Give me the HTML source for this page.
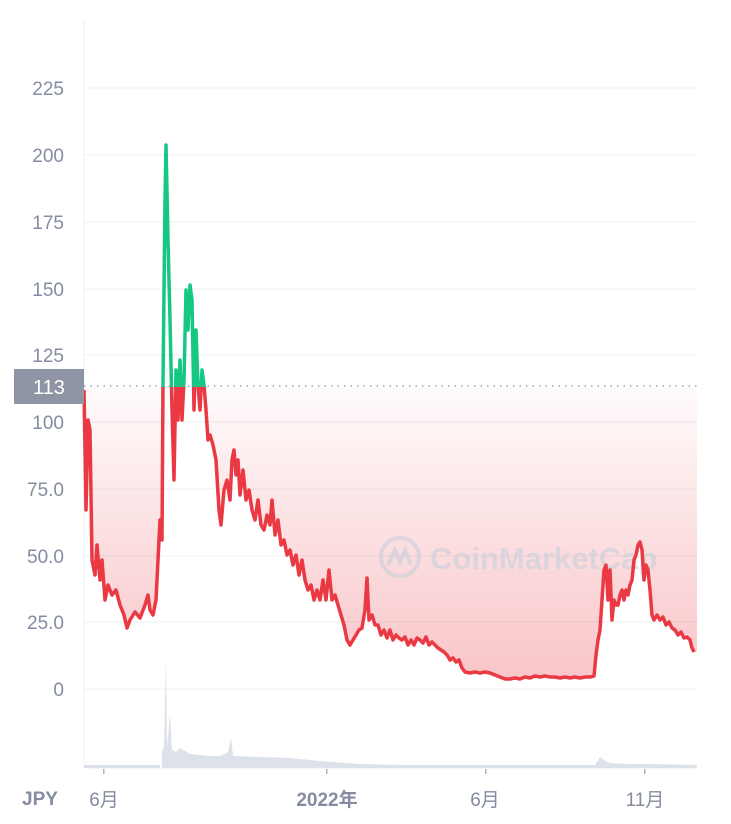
<!DOCTYPE html>
<html><head><meta charset="utf-8"><style>
body{margin:0;background:#fff;width:731px;height:819px;overflow:hidden;font-family:"Liberation Sans","Noto Sans CJK JP",sans-serif}
</style></head><body>
<svg width="731" height="819" viewBox="0 0 731 819" xmlns="http://www.w3.org/2000/svg">
<defs>
<linearGradient id="g" x1="0" y1="387" x2="0" y2="689" gradientUnits="userSpaceOnUse">
<stop offset="0" stop-color="#ea3943" stop-opacity="0.02"/>
<stop offset="1" stop-color="#ea3943" stop-opacity="0.3"/>
</linearGradient>
<clipPath id="below"><rect x="0" y="387" width="731" height="432"/></clipPath>
<clipPath id="above"><rect x="0" y="0" width="731" height="387"/></clipPath>
<polyline id="line" fill="none" stroke-width="3.5" stroke-linejoin="round" points="84,390 86,510 88,420 90,430 92,560 95,575 97,545 100,580 102,560 105,600 108,585 112,595 116,590 120,605 124,615 127,628 130,620 135,612 140,618 145,605 148,595 150,610 153,615 156,600 158,560 160,520 162,540 163,385 165,200 166,145 168,240 170,320 172,410 174,480 176,370 178,420 180,360 182,420 184,380 186,290 188,330 190,285 192,300 194,410 196,330 198,385 200,410 202,370 204,385 206,410 208,440 210,435 213,445 216,460 219,510 221,525 224,490 227,480 230,500 232,460 234,450 236,475 238,460 240,495 243,470 246,500 249,490 252,510 255,520 258,500 261,525 264,530 267,515 270,525 272,500 275,535 278,520 281,545 284,540 287,555 290,550 293,565 296,555 299,575 302,560 305,580 308,590 311,585 314,600 317,590 320,600 323,580 326,600 329,570 332,600 335,595 338,605 341,615 344,625 347,640 350,645 353,640 356,635 359,630 362,628 365,610 367,578 369,620 372,615 375,625 378,625 381,635 384,630 387,638 390,630 393,640 396,635 399,638 402,640 405,637 408,645 411,640 414,645 417,638 420,640 423,643 426,637 429,645 432,642 435,645 438,648 441,650 444,652 447,655 450,660 453,658 456,662 459,660 462,668 465,672 470,673 475,672 480,673 485,672 490,673 495,675 500,677 505,679 510,679 515,678 520,679 525,677 530,678 535,676 540,677 545,676 550,677 555,677 560,678 565,677 570,678 575,677 580,678 585,677 590,677 594,676 596,655 598,640 600,630 602,600 604,570 606,565 608,600 610,570 612,620 614,600 616,605 618,605 620,595 622,590 624,600 626,590 628,595 630,585 632,580 634,560 636,555 638,545 640,542 642,550 644,580 646,565 648,570 650,590 652,615 654,620 657,615 660,620 663,617 666,625 669,622 672,628 675,630 678,635 681,632 684,638 687,637 690,640 692,648 694,652"/>
</defs>
<g stroke="#eff2f5" stroke-width="1.2">
<line x1="84" y1="88" x2="697" y2="88"/><line x1="84" y1="155" x2="697" y2="155"/>
<line x1="84" y1="222" x2="697" y2="222"/><line x1="84" y1="289" x2="697" y2="289"/>
<line x1="84" y1="355" x2="697" y2="355"/><line x1="84" y1="422" x2="697" y2="422"/>
<line x1="84" y1="489" x2="697" y2="489"/><line x1="84" y1="556" x2="697" y2="556"/>
<line x1="84" y1="622" x2="697" y2="622"/><line x1="84" y1="689" x2="697" y2="689"/>
<line x1="84" y1="20" x2="84" y2="768"/><line x1="84" y1="768" x2="697" y2="768"/>
</g>
<g fill="#858ca2" font-size="19" text-anchor="end">
<text x="64" y="95">225</text><text x="64" y="162">200</text><text x="64" y="229">175</text>
<text x="64" y="296">150</text><text x="64" y="362">125</text><text x="64" y="429">100</text>
<text x="64" y="496">75.0</text><text x="64" y="563">50.0</text><text x="64" y="629">25.0</text>
<text x="64" y="696">0</text>
</g>
<g fill="#dde1ea">
<path d="M84 768V765H160V768Z"/>
<path d="M162 768V750L164 748 166 658 167 748 170 715 172 750 176 752 180 748 190 754 200 755 210 756 220 756 228 752 231 738 233 756 260 757 290 758 320 761 360 764 400 765 595 765 600 757 604 760 610 763 630 764 650 764 697 765V768Z"/>
</g>
<g fill="#aab0bf"><rect x="103" y="769" width="1.5" height="5"/><rect x="326" y="769" width="1.5" height="5"/><rect x="485" y="769" width="1.5" height="5"/><rect x="644" y="769" width="1.5" height="5"/></g>
<g font-size="19" fill="#858ca2" text-anchor="middle">
<text x="40" y="805" font-weight="bold">JPY</text>
<text x="104" y="806">6月</text>
<text x="327" y="806" font-weight="bold">2022年</text>
<text x="485" y="806">6月</text>
<text x="645" y="806">11月</text>
</g>
<polygon clip-path="url(#below)" fill="url(#g)" points="84,387 84,390 86,510 88,420 90,430 92,560 95,575 97,545 100,580 102,560 105,600 108,585 112,595 116,590 120,605 124,615 127,628 130,620 135,612 140,618 145,605 148,595 150,610 153,615 156,600 158,560 160,520 162,540 163,385 165,200 166,145 168,240 170,320 172,410 174,480 176,370 178,420 180,360 182,420 184,380 186,290 188,330 190,285 192,300 194,410 196,330 198,385 200,410 202,370 204,385 206,410 208,440 210,435 213,445 216,460 219,510 221,525 224,490 227,480 230,500 232,460 234,450 236,475 238,460 240,495 243,470 246,500 249,490 252,510 255,520 258,500 261,525 264,530 267,515 270,525 272,500 275,535 278,520 281,545 284,540 287,555 290,550 293,565 296,555 299,575 302,560 305,580 308,590 311,585 314,600 317,590 320,600 323,580 326,600 329,570 332,600 335,595 338,605 341,615 344,625 347,640 350,645 353,640 356,635 359,630 362,628 365,610 367,578 369,620 372,615 375,625 378,625 381,635 384,630 387,638 390,630 393,640 396,635 399,638 402,640 405,637 408,645 411,640 414,645 417,638 420,640 423,643 426,637 429,645 432,642 435,645 438,648 441,650 444,652 447,655 450,660 453,658 456,662 459,660 462,668 465,672 470,673 475,672 480,673 485,672 490,673 495,675 500,677 505,679 510,679 515,678 520,679 525,677 530,678 535,676 540,677 545,676 550,677 555,677 560,678 565,677 570,678 575,677 580,678 585,677 590,677 594,676 596,655 598,640 600,630 602,600 604,570 606,565 608,600 610,570 612,620 614,600 616,605 618,605 620,595 622,590 624,600 626,590 628,595 630,585 632,580 634,560 636,555 638,545 640,542 642,550 644,580 646,565 648,570 650,590 652,615 654,620 657,615 660,620 663,617 666,625 669,622 672,628 675,630 678,635 681,632 684,638 687,637 690,640 692,648 694,652 697,652 697,387"/>
<g opacity="0.6">
<circle cx="400" cy="557" r="19" fill="none" stroke="#c8d0dd" stroke-width="4"/>
<path d="M388 565 L395 550 L400 562 L405 550 L411 565" fill="none" stroke="#c8d0dd" stroke-width="4"/>
<text x="430" y="569" font-size="31" fill="#c8d0dd" font-weight="bold">CoinMarketCap</text>
</g>
<g clip-path="url(#below)"><use href="#line" stroke="#ea3943"/></g>
<g clip-path="url(#above)"><use href="#line" stroke="#16c784"/></g>
<line x1="84" y1="386" x2="697" y2="386" stroke="#8a90a0" stroke-width="1.3" stroke-dasharray="1.5 5"/>
<rect x="14" y="369" width="70" height="35" fill="#8f95a5"/>
<text x="49" y="394" font-size="20" fill="#fff" text-anchor="middle">113</text>
</svg>
</body></html>
